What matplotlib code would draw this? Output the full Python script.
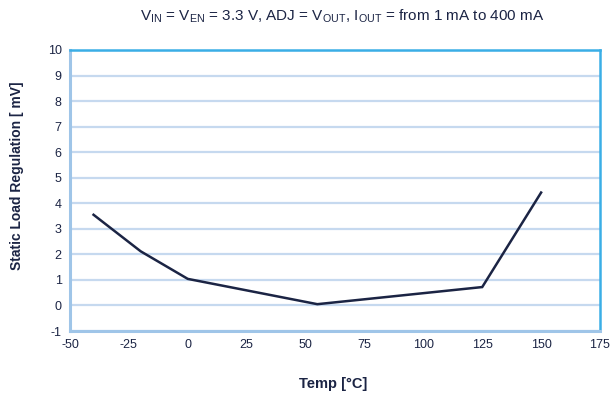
import matplotlib
matplotlib.use("Agg")
import matplotlib.pyplot as plt

plt.rcParams['font.family'] = ['Liberation Sans', 'DejaVu Sans']
plt.rcParams['mathtext.default'] = 'regular'
plt.rcParams['axes.unicode_minus'] = False

# Data
temp = [-40, -20, 0, 55, 125, 150]
load_reg = [3.55, 2.12, 1.04, 0.05, 0.72, 4.42]

xticks = [-50, -25, 0, 25, 50, 75, 100, 125, 150, 175]
yticks = list(range(-1, 11))

navy = "#1b2444"
grid_col = "#c6d9ef"

fig = plt.figure(figsize=(6.14, 4.0), dpi=100)
ax = fig.add_axes([70 / 614, 1 - 331 / 400, 530 / 614, 281 / 400])

ax.plot(temp, load_reg, color=navy, lw=1.8, solid_joinstyle='miter')

ax.set_xlim(-50, 175)
ax.set_ylim(-1, 10)
ax.set_xticks(xticks)
ax.set_yticks(yticks)
ax.tick_params(length=0, labelsize=9, colors=navy, pad=6)
ax.grid(axis='y', color=grid_col, lw=1.6)
ax.set_axisbelow(True)

ax.spines['left'].set_color("#9fc5e8")
ax.spines['left'].set_linewidth(2.2)
ax.spines['bottom'].set_color("#9fc5e8")
ax.spines['bottom'].set_linewidth(2.2)
ax.spines['top'].set_color("#3aaee6")
ax.spines['top'].set_linewidth(1.8)
ax.spines['right'].set_color("#3aaee6")
ax.spines['right'].set_linewidth(1.8)

ax.set_xlabel("Temp [°C]", fontsize=10.5, fontweight='bold', color=navy)
ax.xaxis.set_label_coords((333 - 70) / 530, (331 - 377) / 281)
ax.set_ylabel("Static Load Regulation [ mV]", fontsize=10, fontweight='bold', color=navy)
ax.yaxis.set_label_coords((24 - 70) / 530, (331 - 176) / 281)

fig.text(342 / 614, 1 - 16 / 400,
         r"V$_{IN}$ = V$_{EN}$ = 3.3 V, ADJ = V$_{OUT}$, I$_{OUT}$ = from 1 mA to 400 mA",
         ha='center', va='center', fontsize=11, color=navy)

fig.savefig("out.png", dpi=100)
